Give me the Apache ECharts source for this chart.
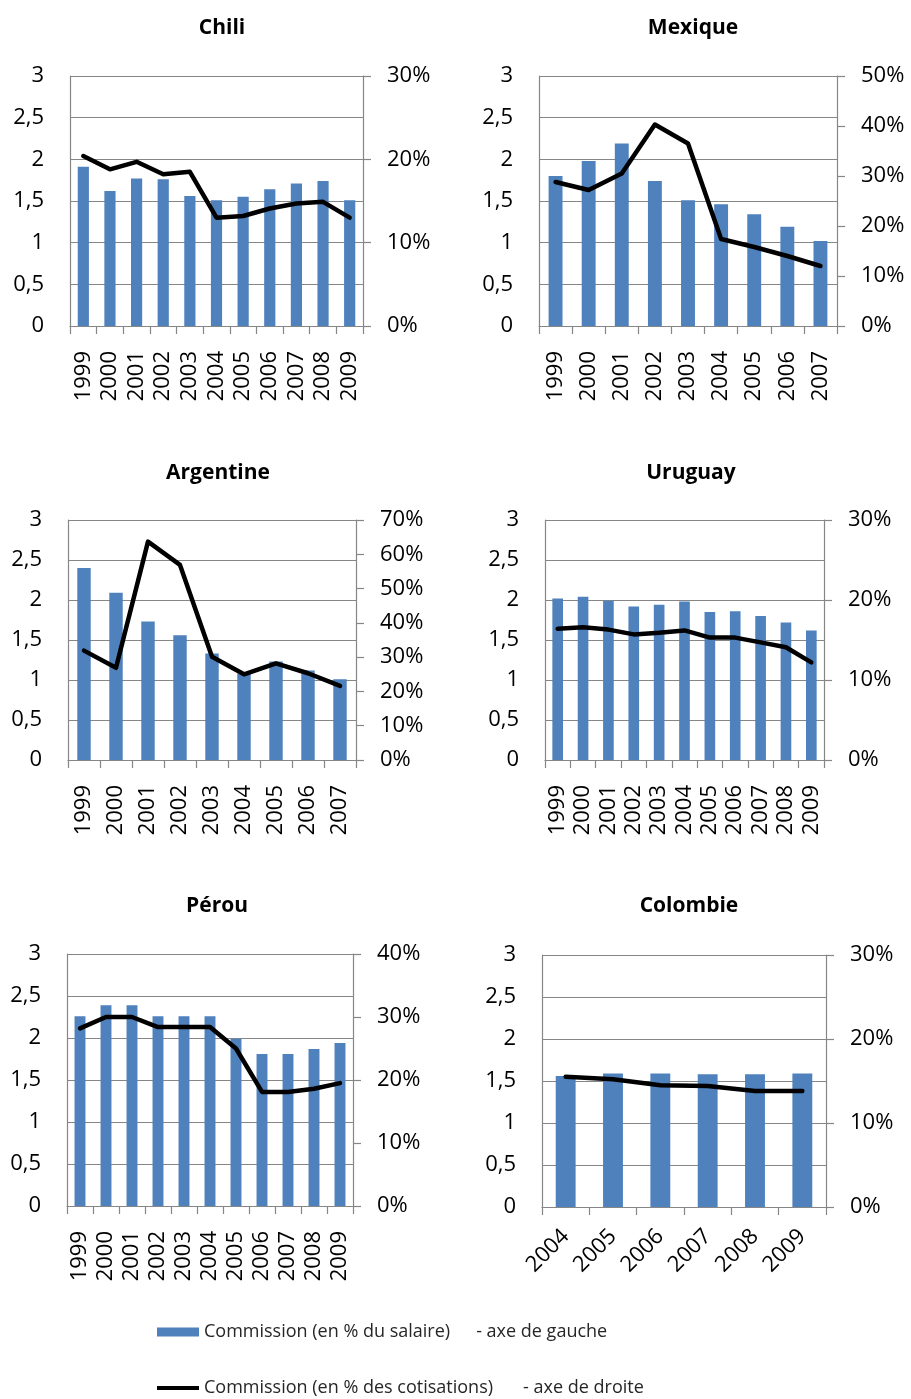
<!DOCTYPE html>
<html lang="fr">
<head>
<meta charset="utf-8">
<title>Commissions</title>
<script src="https://cdn.jsdelivr.net/npm/echarts@6.0.0/dist/echarts.min.js"></script>
<style>
  html, body { margin: 0; padding: 0; background: #fff; }
  #chart { width: 911px; height: 1399px; }
</style>
</head>
<body>
<div id="chart"></div>
<script>
// années
var years99_09 = ['1999','2000','2001','2002','2003','2004','2005','2006','2007','2008','2009'];
var years99_07 = ['1999','2000','2001','2002','2003','2004','2005','2006','2007'];
var years04_09 = ['2004','2005','2006','2007','2008','2009'];

// commission en % du salaire (axe de gauche)
var chiliSalaire     = [1.91, 1.62, 1.77, 1.76, 1.56, 1.51, 1.55, 1.64, 1.71, 1.74, 1.51];
var mexiqueSalaire   = [1.80, 1.98, 2.19, 1.74, 1.51, 1.46, 1.34, 1.19, 1.02];
var argentineSalaire = [2.40, 2.09, 1.73, 1.56, 1.33, 1.08, 1.23, 1.12, 1.01];
var uruguaySalaire   = [2.02, 2.04, 1.99, 1.92, 1.94, 1.98, 1.85, 1.86, 1.80, 1.72, 1.62];
var perouSalaire     = [2.26, 2.39, 2.39, 2.26, 2.26, 2.26, 1.99, 1.81, 1.81, 1.87, 1.94];
var colombieSalaire  = [1.56, 1.59, 1.59, 1.58, 1.58, 1.59];

// commission en % des cotisations (axe de droite, en %)
var chiliCotis     = [20.4, 18.8, 19.7, 18.2, 18.5, 13.0, 13.2, 14.1, 14.7, 14.9, 13.0];
var mexiqueCotis   = [28.8, 27.2, 30.5, 40.3, 36.5, 17.4, 15.8, 14.0, 12.0];
var argentineCotis = [31.9, 26.9, 63.7, 56.9, 30.1, 25.0, 28.2, 25.3, 21.6];
var uruguayCotis   = [16.4, 16.6, 16.3, 15.7, 15.9, 16.2, 15.3, 15.3, 14.7, 14.1, 12.2];
var perouCotis     = [28.2, 30.0, 30.0, 28.4, 28.4, 28.4, 25.0, 18.1, 18.1, 18.6, 19.5];
var colombieCotis  = [15.5, 15.2, 14.5, 14.4, 13.8, 13.8];

var NOM_BARRE = 'Commission (en % du salaire)';
var NOM_LIGNE = 'Commission (en % des cotisations)';

var panels = [
  { title: 'Chili',     cats: years99_09, sal: chiliSalaire,     cot: chiliCotis,     rmax: 30, box: [70, 76, 293, 250],  t: [222, 27] },
  { title: 'Mexique',   cats: years99_07, sal: mexiqueSalaire,   cot: mexiqueCotis,   rmax: 50, box: [539, 76, 298, 250], t: [693, 27] },
  { title: 'Argentine', cats: years99_07, sal: argentineSalaire, cot: argentineCotis, rmax: 70, box: [68, 520, 288, 240], t: [218, 472] },
  { title: 'Uruguay',   cats: years99_09, sal: uruguaySalaire,   cot: uruguayCotis,   rmax: 30, box: [545, 520, 279, 240], t: [691, 472] },
  { title: 'Pérou',     cats: years99_09, sal: perouSalaire,     cot: perouCotis,     rmax: 40, box: [67, 954, 286, 252], t: [217, 905] },
  { title: 'Colombie',  cats: years04_09, sal: colombieSalaire,  cot: colombieCotis,  rmax: 30, box: [542, 955, 284, 252], t: [689, 905], rot: 45 }
];

var FONT = '"Open Sans", "Noto Sans", sans-serif';
var GRIS = '#868686';

var option = {
  animation: false,
  backgroundColor: '#fff',
  textStyle: { fontFamily: FONT },
  title: [], grid: [], xAxis: [], yAxis: [], series: [],
  legend: [
    {
      data: [{ name: NOM_BARRE, icon: 'rect' }],
      left: 157, top: 1323, padding: 0,
      itemWidth: 42, itemHeight: 9,
      selectedMode: false,
      formatter: function (n) { return '{a|' + n + '}{b|- axe de gauche}'; },
      textStyle: {
        fontFamily: FONT, fontSize: 18, color: '#262626',
        rich: { a: { fontSize: 18, color: '#262626' }, b: { fontSize: 18, color: '#262626', padding: [0, 0, 0, 26] } }
      }
    },
    {
      data: [{ name: NOM_LIGNE, icon: 'rect' }],
      left: 157, top: 1379, padding: 0,
      itemWidth: 42, itemHeight: 4,
      selectedMode: false,
      formatter: function (n) { return '{a|' + n + '}{b|- axe de droite}'; },
      textStyle: {
        fontFamily: FONT, fontSize: 18, color: '#262626',
        rich: { a: { fontSize: 18, color: '#262626' }, b: { fontSize: 18, color: '#262626', padding: [0, 0, 0, 30] } }
      }
    }
  ]
};

panels.forEach(function (p, i) {
  option.title.push({
    text: p.title, left: p.t[0], top: p.t[1] - 9, textAlign: 'center', padding: 0,
    textStyle: { fontFamily: FONT, fontSize: 21, fontWeight: 'bold', color: '#000' }
  });
  option.grid.push({ left: p.box[0], top: p.box[1], width: p.box[2], height: p.box[3] });
  option.xAxis.push({
    type: 'category', gridIndex: i, data: p.cats, boundaryGap: true,
    axisLine: { lineStyle: { color: GRIS, width: 1.2 } },
    axisTick: { show: true, interval: 0, length: 8, lineStyle: { color: GRIS, width: 1.2 } },
    axisLabel: {
      interval: 0, rotate: p.rot || 90, margin: p.rot ? 26 : 25,
      fontSize: 22, color: '#000', fontFamily: FONT
    }
  });
  option.yAxis.push({
    type: 'value', gridIndex: i, min: 0, max: 3, interval: 0.5, position: 'left',
    axisLine: { show: true, lineStyle: { color: GRIS, width: 1.2 } },
    axisTick: { show: false },
    splitLine: { show: true, lineStyle: { color: GRIS, width: 1.2 } },
    axisLabel: {
      margin: 26, fontSize: 22, color: '#000', fontFamily: FONT,
      formatter: function (v) { return String(v).replace('.', ','); }
    }
  });
  option.yAxis.push({
    type: 'value', gridIndex: i, min: 0, max: p.rmax, interval: 10, position: 'right',
    axisLine: { show: true, lineStyle: { color: GRIS, width: 1.2 } },
    axisTick: { show: true, length: 8, lineStyle: { color: GRIS, width: 1.2 } },
    splitLine: { show: false },
    axisLabel: { margin: 24, fontSize: 22, color: '#000', fontFamily: FONT, formatter: '{value}%' }
  });
  option.series.push({
    name: NOM_BARRE, type: 'bar', xAxisIndex: i, yAxisIndex: 2 * i,
    data: p.sal, barWidth: '42%', itemStyle: { color: '#4f81bd' }
  });
  option.series.push({
    name: NOM_LIGNE, type: 'line', xAxisIndex: i, yAxisIndex: 2 * i + 1,
    data: p.cot, symbol: 'none', itemStyle: { color: '#000' },
    lineStyle: { color: '#000', width: 4.5, join: 'round', cap: 'round' }
  });
});

var myChart = echarts.init(document.getElementById('chart'), null, { renderer: 'canvas' });
myChart.setOption(option);
</script>
</body>
</html>
